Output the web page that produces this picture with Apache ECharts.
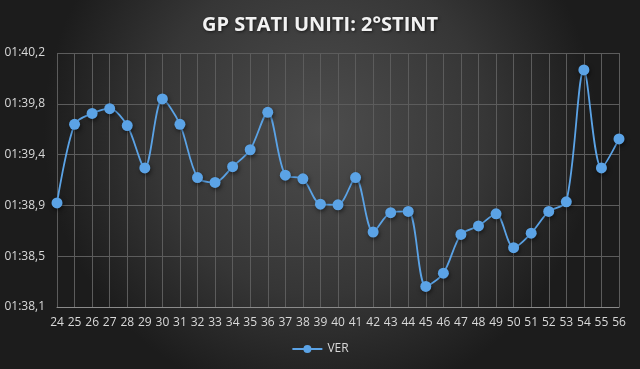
<!DOCTYPE html>
<html><head><meta charset="utf-8">
<script src="https://cdn.jsdelivr.net/npm/echarts@6/dist/echarts.min.js"></script>
<style>html,body{margin:0;padding:0;background:#2a2a2a}#c{width:640px;height:369px}</style>
</head><body><div id="c"></div>
<script>
var laps = ['24','25','26','27','28','29','30','31','32','33','34','35','36','37','38','39','40','41','42','43','44','45','46','47','48','49','50','51','52','53','54','55','56'];
var ver = [98.96,99.61,99.70,99.74,99.60,99.25,99.82,99.61,99.17,99.13,99.26,99.40,99.71,99.19,99.16,98.95,98.945,99.17,98.72,98.88,98.89,98.27,98.38,98.70,98.77,98.87,98.59,98.71,98.89,98.97,100.06,99.25,99.49];
var yMin = 98.1, yMax = 100.2, yStep = 0.42;

function fmt(v){
  var m = Math.floor(v/60), s = v - m*60;
  return (m<10?'0':'')+m+':'+s.toFixed(1).replace('.',',');
}
var chart = echarts.init(document.getElementById('c'));
chart.setOption({
  backgroundColor: {type:'radial', x:0.5, y:0.35, r:0.75,
    colorStops:[{offset:0,color:'#4d4d4d'},{offset:0.6,color:'#363636'},{offset:1,color:'#1c1c1c'}]},
  title:{text:'GP STATI UNITI: 2°STINT', left:'center', top:10,
    textStyle:{color:'#f2f2f2', fontFamily:'Open Sans', fontWeight:'bold', fontSize:20,
      textShadowColor:'rgba(0,0,0,0.6)', textShadowBlur:3, textShadowOffsetX:1, textShadowOffsetY:1}},
  grid:{left:57, right:21, top:53, bottom:62},
  legend:{bottom:9, left:'center', itemWidth:30, itemHeight:10,
    textStyle:{color:'#d9d9d9', fontFamily:'Open Sans', fontSize:12}, data:['VER']},
  xAxis:{type:'category', data:laps, boundaryGap:false,
    axisLine:{lineStyle:{color:'#8a8a8a'}}, axisTick:{show:false},
    axisLabel:{color:'#d9d9d9', fontFamily:'Open Sans', fontSize:12, margin:10, interval:0},
    splitLine:{show:true, interval:0, lineStyle:{color:'#5c5c5c', width:1}}},
  yAxis:{type:'value', min:yMin, max:yMax, interval:yStep,
    axisLine:{show:false}, axisTick:{show:false},
    axisLabel:{color:'#d9d9d9', fontFamily:'Open Sans', fontSize:12, margin:12, formatter:fmt},
    splitLine:{lineStyle:{color:'#5c5c5c', width:1}}},
  series:[{name:'VER', type:'line', data:ver, smooth:0.3,
    symbol:'circle', symbolSize:11,
    lineStyle:{color:'#5ba3e6', width:1.8},
    itemStyle:{color:'#5ba3e6', shadowColor:'rgba(0,0,0,0.5)', shadowBlur:4, shadowOffsetX:1, shadowOffsetY:2}}]
});
</script></body></html>
